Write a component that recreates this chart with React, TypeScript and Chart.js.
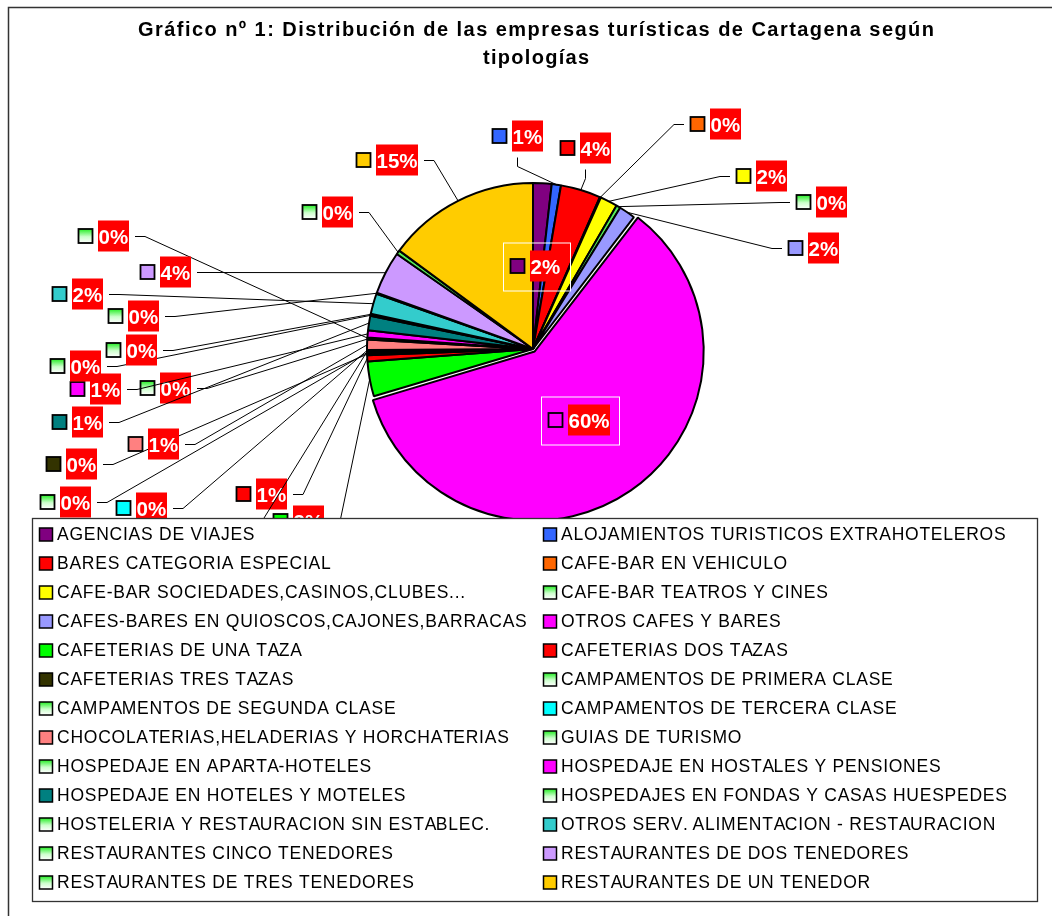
import React, { useEffect, useRef } from 'react';
import { Chart, registerables } from 'chart.js';

Chart.register(...registerables);

const TITLE_LINES = [
  'Gráfico nº 1: Distribución de las empresas turísticas de Cartagena según',
  'tipologías',
];

const CATEGORIES = [
  'AGENCIAS DE VIAJES',
  'ALOJAMIENTOS TURISTICOS EXTRAHOTELEROS',
  'BARES CATEGORIA ESPECIAL',
  'CAFE-BAR EN VEHICULO',
  'CAFE-BAR SOCIEDADES,CASINOS,CLUBES...',
  'CAFE-BAR TEATROS Y CINES',
  'CAFES-BARES EN QUIOSCOS,CAJONES,BARRACAS',
  'OTROS CAFES Y BARES',
  'CAFETERIAS DE UNA TAZA',
  'CAFETERIAS DOS TAZAS',
  'CAFETERIAS TRES TAZAS',
  'CAMPAMENTOS DE PRIMERA CLASE',
  'CAMPAMENTOS DE SEGUNDA CLASE',
  'CAMPAMENTOS DE TERCERA CLASE',
  'CHOCOLATERIAS,HELADERIAS Y HORCHATERIAS',
  'GUIAS DE TURISMO',
  'HOSPEDAJE EN APARTA-HOTELES',
  'HOSPEDAJE EN HOSTALES Y PENSIONES',
  'HOSPEDAJE EN HOTELES Y MOTELES',
  'HOSPEDAJES EN FONDAS Y CASAS HUESPEDES',
  'HOSTELERIA Y RESTAURACION SIN ESTABLEC.',
  'OTROS SERV. ALIMENTACION - RESTAURACION',
  'RESTAURANTES CINCO TENEDORES',
  'RESTAURANTES DE DOS TENEDORES',
  'RESTAURANTES DE TRES TENEDORES',
  'RESTAURANTES DE UN TENEDOR',
];

// share of companies (%) per typology
const SHARES = [
  1.8, 0.9, 3.9, 0.1, 1.7, 0.4, 1.6, 60.0, 3.4, 0.6, 0.2, 0.1, 0.1, 0.1, 1.0,
  0.1, 0.1, 0.7, 1.4, 0.1, 0.1, 2.0, 0.1, 4.2, 0.4, 14.9,
];

// 'G' = green-to-white gradient fill
const COLORS = [
  '#800080', '#3366FF', '#FF0000', '#FF6600', '#FFFF00', 'G', '#9999FF', '#FF00FF',
  '#00FF00', '#FF0000', '#333300', 'G', 'G', '#00FFFF', '#FF8080', 'G', 'G',
  '#FF00FF', '#008080', 'G', 'G', '#33CCCC', 'G', '#CC99FF', 'G', '#FFCC00',
];

// data label placement (left edge of red box, vertical centre)
const LABEL_X = [530, 512, 580, 710, 756, 816, 808, 568, 293, 256, 66, 60, 200, 136, 148, 160, 98, 90, 72, 70, 126, 72, 128, 160, 322, 376];
const LABEL_Y = [266, 136, 148, 124, 176, 202, 248, 420, 521, 494, 464, 502, 545, 508, 444, 388, 236, 389, 422, 366, 350, 294, 316, 272, 212, 160];
const INSIDE = [0, 7];
const EXPLODED = 7;

const FONT = '"Liberation Sans", Arial, Helvetica, sans-serif';

function drawSpaced(ctx: CanvasRenderingContext2D, text: string, x: number, y: number, sp: number) {
  for (let i = 0; i < text.length; i++) {
    const off = ctx.measureText(text.slice(0, i)).width + i * sp;
    ctx.fillText(text[i], x + off, y);
  }
}

function keyFill(ctx: CanvasRenderingContext2D, color: string, top: number, h: number) {
  if (color !== 'G') return color;
  const g = ctx.createLinearGradient(0, top, 0, top + h);
  g.addColorStop(0, '#22EE22');
  g.addColorStop(0.55, '#CCFFCC');
  g.addColorStop(1, '#FFFFFF');
  return g;
}

const decorPlugin = {
  id: 'excelDecor',
  afterDraw(chart: any) {
    const ctx: CanvasRenderingContext2D = chart.ctx;
    const total = SHARES.reduce((a, b) => a + b, 0);
    const meta = chart.getDatasetMeta(0);
    ctx.save();
    ctx.textAlign = 'left';
    ctx.textBaseline = 'alphabetic';

    // outer frame
    ctx.strokeStyle = '#333';
    ctx.lineWidth = 1.5;
    ctx.beginPath();
    ctx.moveTo(8.5, 916);
    ctx.lineTo(8.5, 7.5);
    ctx.lineTo(1052, 7.5);
    ctx.stroke();

    // title
    ctx.fillStyle = '#000';
    ctx.font = `bold 20px ${FONT}`;
    const titleW = [796, 106];
    const titleY = [36, 64];
    TITLE_LINES.forEach((t, i) => {
      const w = ctx.measureText(t).width;
      const sp = (titleW[i] - w) / (t.length - 1);
      drawSpaced(ctx, t, 536 - titleW[i] / 2, titleY[i], sp);
    });

    // data labels with leader lines
    meta.data.forEach((arc: any, i: number) => {
      const p = arc.getProps(['x', 'y', 'startAngle', 'endAngle', 'outerRadius'], true);
      const mid = (p.startAngle + p.endAngle) / 2;
      const px = p.x + Math.cos(mid) * p.outerRadius;
      const py = p.y + Math.sin(mid) * p.outerRadius;
      const pct = Math.round((SHARES[i] / total) * 100) + '%';
      ctx.font = `bold 20.5px ${FONT}`;
      const tw = ctx.measureText(pct).width;
      const bx = LABEL_X[i];
      const cy = LABEL_Y[i];
      const bw = Math.round(tw + 1);
      const bh = 31;
      const keyL = bx - 20;
      const right = bx + bw;
      const inside = INSIDE.includes(i);

      if (!inside) {
        const lcx = (keyL + right) / 2;
        const dx = px - lcx;
        const dy = py - cy;
        ctx.strokeStyle = '#000';
        ctx.lineWidth = 1;
        ctx.beginPath();
        if (Math.abs(dx) < Math.abs(dy) && dy > 0) {
          const ay = cy + bh / 2 + 6;
          ctx.moveTo(lcx, ay);
          ctx.lineTo(lcx, ay + 9);
        } else {
          const ax = dx > 0 ? right + 6 : keyL - 6;
          const sx = dx > 0 ? ax + 10 : ax - 10;
          ctx.moveTo(ax, cy + 0.5);
          ctx.lineTo(sx, cy + 0.5);
        }
        ctx.lineTo(px, py);
        ctx.stroke();
      } else {
        ctx.strokeStyle = '#FFFFFF';
        ctx.lineWidth = 1;
        ctx.strokeRect(keyL - 6.5, cy - bh / 2 - 7.5, right + 10 - (keyL - 6), bh + 17);
      }

      // legend key
      const kTop = cy - 7;
      ctx.fillStyle = keyFill(ctx, COLORS[i], kTop, 14);
      ctx.fillRect(keyL + 0.5, kTop, 14, 14);
      ctx.strokeStyle = '#000';
      ctx.lineWidth = 1.8;
      ctx.strokeRect(keyL + 0.5, kTop, 14, 14);

      // red box with value
      ctx.fillStyle = '#FF0000';
      ctx.fillRect(bx, cy - bh / 2, bw, bh);
      ctx.fillStyle = '#FFFFFF';
      ctx.fillText(pct, bx + 0.5, cy + 7.5);
    });

    // legend box
    ctx.fillStyle = '#FFFFFF';
    ctx.fillRect(32, 518, 1006, 384);
    ctx.strokeStyle = '#333';
    ctx.lineWidth = 1.3;
    ctx.strokeRect(32.5, 518.5, 1005, 383);

    ctx.font = `17.5px ${FONT}`;
    CATEGORIES.forEach((name, i) => {
      const col = i % 2;
      const row = Math.floor(i / 2);
      const base = 540 + row * 29;
      const kx = col ? 543 : 39;
      const tx = col ? 561 : 57;
      ctx.fillStyle = keyFill(ctx, COLORS[i], base - 12, 13);
      ctx.fillRect(kx + 0.5, base - 12, 13, 13);
      ctx.strokeStyle = '#000';
      ctx.lineWidth = 1.5;
      ctx.strokeRect(kx + 0.5, base - 12, 13, 13);
      ctx.fillStyle = '#000';
      drawSpaced(ctx, name, tx, base, 0.75);
    });

    ctx.restore();
  },
};

export default function App() {
  const ref = useRef<HTMLCanvasElement>(null);

  useEffect(() => {
    document.body.style.margin = '0';
    const canvas = ref.current!;
    const chart = new Chart(canvas, {
      type: 'pie',
      data: {
        labels: CATEGORIES,
        datasets: [
          {
            data: SHARES,
            backgroundColor: COLORS.map((c) => (c === 'G' ? '#55F055' : c)),
            borderColor: '#000000',
            borderWidth: 2,
            offset: (c: any) => (c.dataIndex === EXPLODED ? 12 : 0),
            radius: 166,
          } as any,
        ],
      },
      options: {
        responsive: false,
        animation: false,
        devicePixelRatio: 1,
        layout: { padding: { left: 14, top: 0, right: 0, bottom: 218 } },
        plugins: {
          legend: { display: false },
          title: { display: false },
          tooltip: { enabled: false },
        },
      } as any,
      plugins: [decorPlugin],
    });
    return () => chart.destroy();
  }, []);

  return (
    <div style={{ position: 'absolute', left: 0, top: 0, width: 1052, height: 916, background: '#fff' }}>
      <canvas ref={ref} width={1052} height={916} style={{ display: 'block', width: 1052, height: 916 }} />
    </div>
  );
}
